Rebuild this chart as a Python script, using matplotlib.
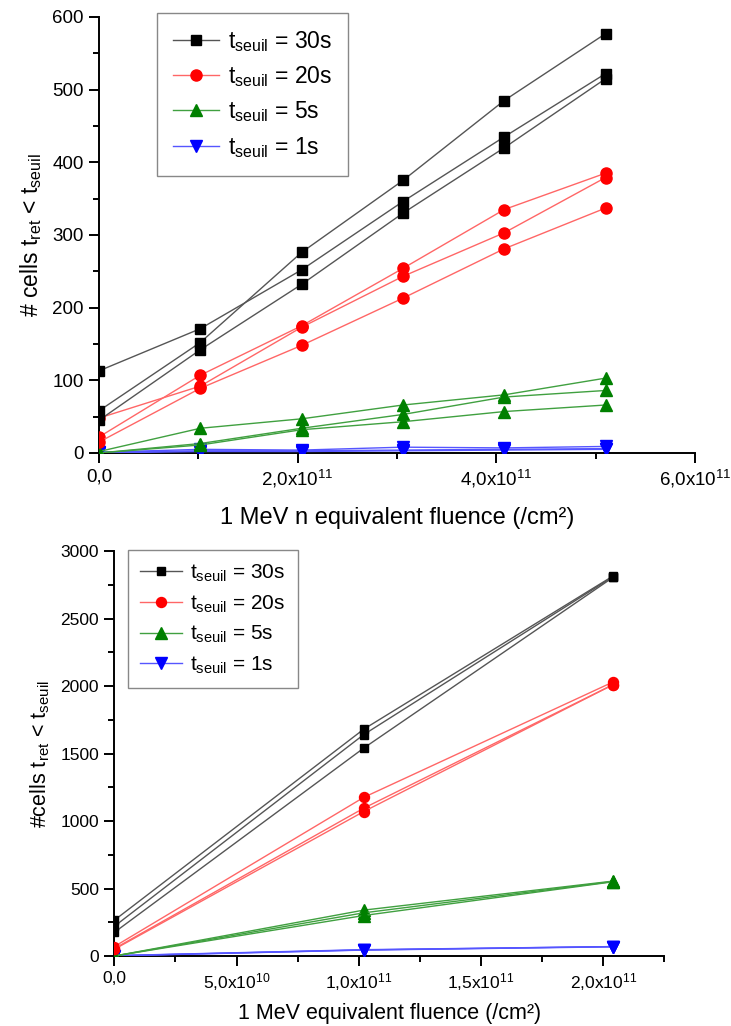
import matplotlib
matplotlib.use('Agg')
import matplotlib.pyplot as plt

plt.rcParams['font.family'] = ['Liberation Sans', 'DejaVu Sans']
plt.rcParams['mathtext.fontset'] = 'custom'
plt.rcParams['mathtext.rm'] = 'Liberation Sans'
plt.rcParams['mathtext.it'] = 'Liberation Sans:italic'
plt.rcParams['mathtext.bf'] = 'Liberation Sans:bold'

# top chart: 6 fluence steps, 3 runs per threshold
top_x = [0.0, 1.02e11, 2.04e11, 3.06e11, 4.08e11, 5.10e11]
top_30s = [[113, 171, 252, 346, 435, 522],
           [58, 152, 276, 375, 485, 577],
           [45, 142, 232, 330, 420, 515]]
top_20s = [[22, 107, 175, 254, 335, 385],
           [48, 92, 173, 243, 303, 379],
           [15, 89, 148, 213, 281, 337]]
top_5s = [[2, 34, 47, 66, 80, 103],
          [0, 13, 34, 53, 77, 86],
          [0, 11, 32, 43, 57, 66]]
top_1s = [[1, 5, 4, 8, 7, 9],
          [1, 3, 3, 4, 5, 6],
          [0, 2, 2, 3, 4, 5]]
top_xticks = [0, 2e11, 4e11, 6e11]
top_xlabels = ['0,0', r'2,0x10$^{11}$', r'4,0x10$^{11}$', r'6,0x10$^{11}$']

# bottom chart: 3 fluence steps
bot_x = [0.0, 1.02e11, 2.04e11]
bot_30s = [[265, 1680, 2815],
           [220, 1640, 2810],
           [175, 1540, 2805]]
bot_20s = [[70, 1175, 2030],
           [55, 1095, 2010],
           [50, 1070, 2010]]
bot_5s = [[0, 340, 555],
          [0, 320, 552],
          [0, 300, 550]]
bot_1s = [[3, 47, 70],
          [2, 45, 70],
          [1, 44, 68]]
bot_xticks = [0, 5e10, 1e11, 1.5e11, 2e11]
bot_xlabels = ['0,0', r'5,0x10$^{10}$', r'1,0x10$^{11}$', r'1,5x10$^{11}$', r'2,0x10$^{11}$']

labels = [r'$\mathrm{t_{seuil}}$ = 30s', r'$\mathrm{t_{seuil}}$ = 20s',
          r'$\mathrm{t_{seuil}}$ = 5s', r'$\mathrm{t_{seuil}}$ = 1s']
styles = [('s', '#000000', '#555555'),
          ('o', '#ff0000', '#ff6666'),
          ('^', '#008000', '#40a040'),
          ('v', '#0000ff', '#5555ff')]
msizes = [7, 8, 9, 9]


def draw(ax, x, groups, ms_scale):
    for k, runs in enumerate(groups):
        m, mc, lc = styles[k]
        for j, y in enumerate(runs):
            ax.plot(x, y, color=lc, lw=1.0, marker=m, ms=msizes[k] * ms_scale,
                    mfc=mc, mec=mc, label=labels[k] if j == 0 else None, zorder=3 - k * 0.1)


def style_axes(ax, tsize):
    for s in ['top', 'right']:
        ax.spines[s].set_visible(False)
    for s in ['left', 'bottom']:
        ax.spines[s].set_linewidth(1.4)
    ax.tick_params(which='major', direction='out', length=7, width=1.4, labelsize=tsize, pad=4)
    ax.tick_params(which='minor', direction='out', length=4, width=1.4)


fig = plt.figure(figsize=(7.31, 10.26), dpi=100)

ax1 = fig.add_axes([0.1354, 0.5585, 0.8153, 0.4250])
draw(ax1, top_x, [top_30s, top_20s, top_5s, top_1s], 1.0)
ax1.set_xlim(0, 6e11)
ax1.set_ylim(0, 600)
ax1.set_xticks(top_xticks, labels=top_xlabels)
ax1.set_xticks([1e11, 3e11, 5e11], minor=True)
ax1.set_yticks(range(0, 601, 100))
ax1.set_yticks(range(50, 600, 100), minor=True)
style_axes(ax1, 13.5)
ax1.set_xlabel('1 MeV n equivalent fluence (/cm²)', fontsize=17, labelpad=12)
ax1.set_ylabel(r'# cells $\mathrm{t_{ret}}$ < $\mathrm{t_{seuil}}$', fontsize=16.5, labelpad=6)
ax1.legend(loc='upper left', bbox_to_anchor=(0.2148, 0.9873), bbox_transform=fig.transFigure,
           fontsize=16.5, frameon=True, fancybox=False, edgecolor='#888888', framealpha=1,
           handlelength=2.0, labelspacing=0.45, borderpad=0.7, handletextpad=0.4,
           borderaxespad=0)

ax2 = fig.add_axes([0.1564, 0.0682, 0.7524, 0.3947])
draw(ax2, bot_x, [bot_30s, bot_20s, bot_5s, bot_1s], 0.9)
ax2.set_xlim(0, 2.25e11)
ax2.set_ylim(0, 3000)
ax2.set_xticks(bot_xticks, labels=bot_xlabels)
ax2.set_xticks([2.5e10, 7.5e10, 1.25e11, 1.75e11, 2.25e11], minor=True)
ax2.set_yticks(range(0, 3001, 500))
ax2.set_yticks(range(250, 3000, 500), minor=True)
style_axes(ax2, 12.5)
ax2.set_xlabel('1 MeV equivalent fluence (/cm²)', fontsize=15.5, labelpad=7)
ax2.set_ylabel(r'#cells $\mathrm{t_{ret}}$ < $\mathrm{t_{seuil}}$', fontsize=15.5, labelpad=6)
ax2.legend(loc='upper left', bbox_to_anchor=(0.1751, 0.4639), bbox_transform=fig.transFigure,
           fontsize=15, frameon=True, fancybox=False, edgecolor='#888888', framealpha=1,
           handlelength=2.0, labelspacing=0.45, borderpad=0.6, handletextpad=0.4,
           borderaxespad=0)

fig.savefig('out.png', dpi=100)
